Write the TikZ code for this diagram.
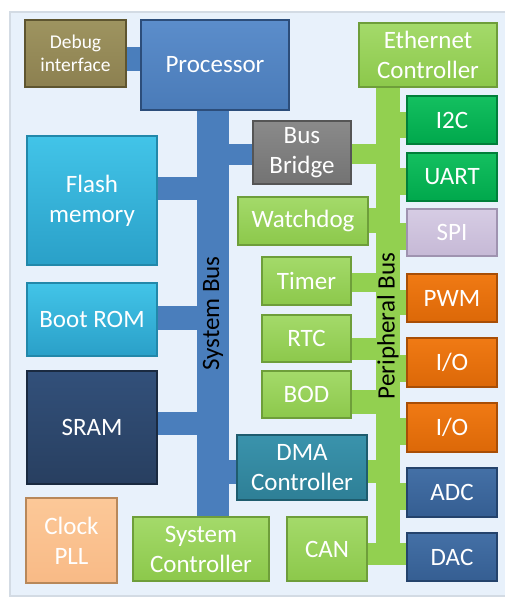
\documentclass[tikz,border=0pt]{standalone}
\usepackage{fontspec}
\setmainfont{Carlito}
\pgfdeclarelayer{back}
\pgfdeclarelayer{bars}
\pgfsetlayers{back,bars,main}
\definecolor{panelfill}{HTML}{E8F1FB}
\definecolor{panelline}{HTML}{D3DBE4}
\definecolor{sysbuscol}{HTML}{4A7EBC}
\definecolor{pbuscol}{HTML}{92D050}
\tikzset{
  blk/.style={rectangle, inner sep=0pt, text=white, align=center, line width=1.2pt,
    font=\fontsize{25}{30}\selectfont},
  greenblk/.style={top color={rgb,255:red,164;green,218;blue,106}, bottom color={rgb,255:red,140;green,200;blue,75}, draw={rgb,255:red,110;green,158;blue,58}},
  dgreenblk/.style={top color={rgb,255:red,20;green,192;blue,96}, bottom color={rgb,255:red,0;green,168;blue,76}, draw={rgb,255:red,0;green,127;blue,58}},
  procblk/.style={top color={rgb,255:red,91;green,141;blue,203}, bottom color={rgb,255:red,74;green,123;blue,184}, draw={rgb,255:red,44;green,77;blue,122}},
  oliveblk/.style={top color={rgb,255:red,158;green,148;blue,96}, bottom color={rgb,255:red,140;green,128;blue,80}, draw={rgb,255:red,94;green,85;blue,48}},
  cyanblk/.style={top color={rgb,255:red,66;green,196;blue,232}, bottom color={rgb,255:red,42;green,160;blue,200}, draw={rgb,255:red,34;green,136;blue,170}},
  sramblk/.style={top color={rgb,255:red,50;green,80;blue,122}, bottom color={rgb,255:red,40;green,63;blue,96}, draw={rgb,255:red,26;green,42;blue,64}},
  grayblk/.style={top color={rgb,255:red,138;green,138;blue,138}, bottom color={rgb,255:red,115;green,115;blue,115}, draw={rgb,255:red,85;green,85;blue,85}},
  lavblk/.style={top color={rgb,255:red,214;green,204;blue,228}, bottom color={rgb,255:red,198;green,185;blue,214}, draw={rgb,255:red,159;green,147;blue,176}},
  orangeblk/.style={top color={rgb,255:red,240;green,122;blue,20}, bottom color={rgb,255:red,220;green,104;blue,8}, draw={rgb,255:red,168;green,78;blue,6}},
  navyblk/.style={top color={rgb,255:red,68;green,112;blue,166}, bottom color={rgb,255:red,53;green,94;blue,146}, draw={rgb,255:red,36;green,67;blue,108}},
  tealblk/.style={top color={rgb,255:red,58;green,147;blue,172}, bottom color={rgb,255:red,46;green,127;blue,150}, draw={rgb,255:red,31;green,92;blue,110}},
  peachblk/.style={top color={rgb,255:red,252;green,200;blue,152}, bottom color={rgb,255:red,248;green,186;blue,134}, draw={rgb,255:red,184;green,136;blue,90}},
  busnode/.style={rectangle, inner sep=0pt, draw=none},
  sysbar/.style={fill=sysbuscol},
  pbar/.style={fill=pbuscol},
  buslabel/.style={rotate=90, text=black, font=\fontsize{25}{30}\selectfont, inner sep=0pt},
}
\newcommand\mkblk[7]{%
  \pgfmathsetmacro\blkw{#4-#2}\pgfmathsetmacro\blkh{#5-#3}%
  \node[blk,#6,minimum width=\blkw pt,minimum height=\blkh pt] (#1) at ({(#2+#4)/2},{(#3+#5)/2}) {#7};}
\begin{document}
\begin{tikzpicture}[x=1pt,y=-1pt]
\useasboundingbox (0,0) rectangle (505,599);
\begin{pgfonlayer}{back}
\fill[white] (0,0) rectangle (505,599);
\draw[fill=panelfill, draw=panelline, line width=1.5pt] (10,12) rectangle (507,596);
\end{pgfonlayer}
% buses
\node[busnode, fill=sysbuscol, minimum width=32pt, minimum height=407pt,
  label={[buslabel]center:System Bus}] (sysbus) at (213,313.5) {};
\node[busnode, fill=pbuscol, minimum width=24pt, minimum height=478pt,
  label={[buslabel]center:Peripheral Bus}] (pbus) at (388,326) {};
% blocks
\mkblk{debug}{25}{20}{126}{87}{oliveblk,font=\fontsize{19.5}{23}\selectfont}{Debug\\interface}
\mkblk{proc}{141}{20}{289}{110}{procblk}{Processor}
\mkblk{flash}{27}{136}{157}{265}{cyanblk}{Flash\\memory}
\mkblk{boot}{27}{283}{157}{356}{cyanblk}{Boot ROM}
\mkblk{sram}{27}{371}{157}{484}{sramblk}{SRAM}
\mkblk{clock}{26}{498}{117}{583}{peachblk}{Clock\\PLL}
\mkblk{sysctl}{133}{517}{269}{581}{greenblk}{System\\Controller}
\mkblk{can}{287}{517}{367}{581}{greenblk}{CAN}
\mkblk{dma}{237}{435}{367}{500}{tealblk}{DMA\\Controller}
\mkblk{bridge}{253}{121}{351}{184}{grayblk}{Bus\\Bridge}
\mkblk{wdog}{238}{197}{368}{245}{greenblk}{Watchdog}
\mkblk{timer}{262}{257}{351}{305}{greenblk}{Timer}
\mkblk{rtc}{262}{315}{351}{362}{greenblk}{RTC}
\mkblk{bod}{262}{371}{351}{418}{greenblk}{BOD}
\mkblk{eth}{359}{23}{497}{87}{greenblk}{Ethernet\\Controller}
\mkblk{i2c}{407}{96}{497}{144}{dgreenblk}{I2C}
\mkblk{uart}{407}{153}{497}{201}{dgreenblk}{UART}
\mkblk{spi}{407}{209}{497}{256}{lavblk}{SPI}
\mkblk{pwm}{407}{274}{497}{322}{orangeblk}{PWM}
\mkblk{ioa}{407}{338}{497}{387}{orangeblk}{I/O}
\mkblk{iob}{407}{403}{497}{452}{orangeblk}{I/O}
\mkblk{adc}{407}{468}{497}{517}{navyblk}{ADC}
\mkblk{dac}{407}{533}{497}{581}{navyblk}{DAC}
% connector bars
\begin{pgfonlayer}{bars}
\fill[sysbar] (debug.east |- 0,47) rectangle (proc.west |- 0,71);
\fill[sysbar] (sysbus.north west) rectangle (proc.south east -| sysbus.east);
\fill[sysbar] (sysbus.east |- 0,144) rectangle (bridge.west |- 0,165);
\fill[sysbar] (flash.east |- 0,177) rectangle (sysbus.west |- 0,200);
\fill[sysbar] (boot.east |- 0,306) rectangle (sysbus.west |- 0,330);
\fill[sysbar] (sram.east |- 0,412) rectangle (sysbus.west |- 0,435);
\fill[sysbar] (sysbus.east |- 0,460) rectangle (dma.west |- 0,484);
\fill[pbar] (bridge.east |- 0,144) rectangle (pbus.west |- 0,164);
\fill[pbar] (wdog.east |- 0,208) rectangle (pbus.west |- 0,233);
\fill[pbar] (timer.east |- 0,273) rectangle (pbus.west |- 0,292);
\fill[pbar] (rtc.east |- 0,338) rectangle (pbus.west |- 0,360);
\fill[pbar] (bod.east |- 0,390) rectangle (pbus.west |- 0,414);
\fill[pbar] (dma.east |- 0,460) rectangle (pbus.west |- 0,483);
\fill[pbar] (can.east |- 0,543) rectangle (dac.west |- 0,565);
\fill[pbar] (pbus.east |- 0,112) rectangle (i2c.west |- 0,138);
\fill[pbar] (pbus.east |- 0,168) rectangle (uart.west |- 0,195);
\fill[pbar] (pbus.east |- 0,223) rectangle (spi.west |- 0,250);
\fill[pbar] (pbus.east |- 0,290) rectangle (pwm.west |- 0,315);
\fill[pbar] (pbus.east |- 0,355) rectangle (ioa.west |- 0,382);
\fill[pbar] (pbus.east |- 0,418) rectangle (iob.west |- 0,445);
\fill[pbar] (pbus.east |- 0,483) rectangle (adc.west |- 0,510);
\end{pgfonlayer}
\end{tikzpicture}
\end{document}
